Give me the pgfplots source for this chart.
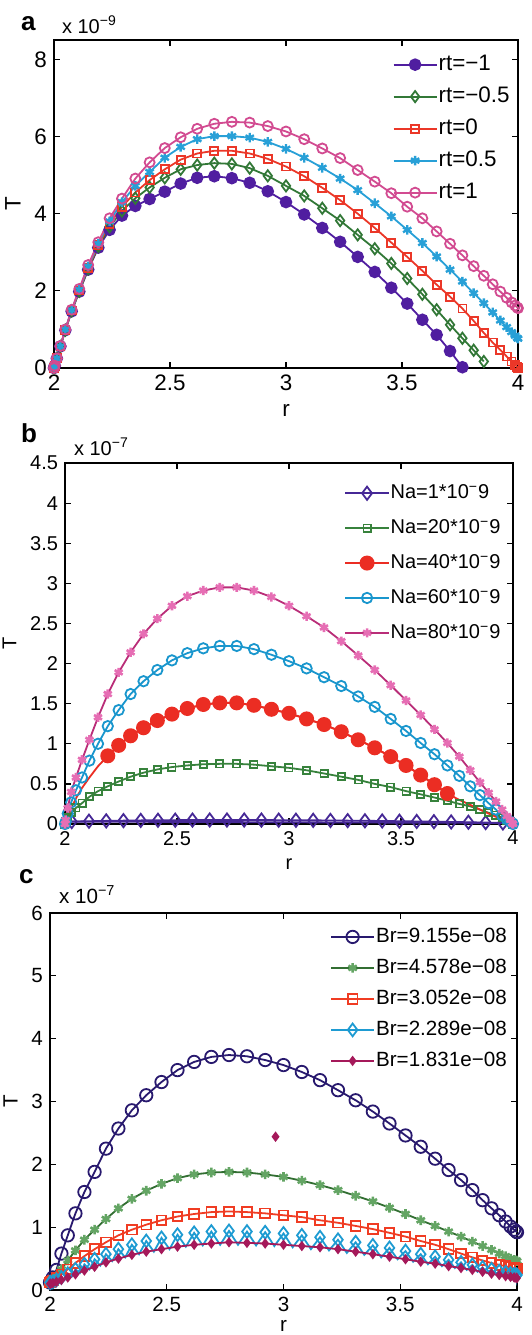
\documentclass[border=0pt]{standalone}
\usepackage{fontspec}
\setmainfont{Liberation Sans}
\usepackage{pgfplots}
\usepackage{pgfplotstable}
\pgfplotsset{compat=1.18}

\definecolor{a1}{RGB}{80,30,160}
\definecolor{a2}{RGB}{50,120,55}
\definecolor{a3}{RGB}{235,55,40}
\definecolor{a4}{RGB}{40,160,215}
\definecolor{a5}{RGB}{210,75,145}
\definecolor{b1}{RGB}{70,40,150}
\definecolor{b2}{RGB}{55,130,60}
\definecolor{b3}{RGB}{235,45,35}
\definecolor{b4}{RGB}{25,150,205}
\definecolor{b5}{RGB}{185,45,120}
\definecolor{b5f}{RGB}{230,110,180}
\definecolor{c1}{RGB}{40,25,110}
\definecolor{c2}{RGB}{50,110,50}
\definecolor{c2f}{RGB}{100,165,100}
\definecolor{c3}{RGB}{240,60,35}
\definecolor{c4}{RGB}{30,155,210}
\definecolor{c5}{RGB}{165,25,90}

% panel a: rt = -1, -0.5, 0, 0.5, 1  (units 1e-9)
\pgfplotstableread{
r A B C D E
2.0000 0 0 0 0 0
2.0031 0.06 0.06 0.06 0.06 0.06
2.0123 0.25 0.25 0.25 0.25 0.25
2.0276 0.56 0.56 0.56 0.56 0.57
2.0489 0.98 0.98 0.99 1.00 1.00
2.0761 1.47 1.48 1.49 1.50 1.51
2.1090 1.98 1.99 2.01 2.03 2.05
2.1474 2.55 2.57 2.60 2.63 2.67
2.1910 3.12 3.15 3.18 3.22 3.26
2.2396 3.58 3.66 3.73 3.80 3.88
2.2929 3.95 4.07 4.18 4.30 4.39
2.3506 4.20 4.40 4.55 4.72 4.91
2.4122 4.38 4.68 4.87 5.08 5.33
2.4775 4.57 4.93 5.15 5.45 5.70
2.5460 4.78 5.15 5.40 5.73 5.98
2.6173 4.93 5.26 5.56 5.93 6.20
2.6910 4.97 5.31 5.63 6.01 6.33
2.7666 4.92 5.29 5.63 6.01 6.38
2.8436 4.80 5.18 5.56 5.97 6.36
2.9215 4.58 4.98 5.42 5.86 6.27
3.0000 4.30 4.72 5.22 5.68 6.13
3.0785 3.98 4.46 4.97 5.45 5.93
3.1564 3.63 4.14 4.67 5.19 5.69
3.2334 3.27 3.82 4.35 4.91 5.44
3.3090 2.88 3.45 4.00 4.61 5.13
3.3827 2.49 3.09 3.63 4.27 4.83
3.4540 2.08 2.71 3.25 3.93 4.53
3.5225 1.67 2.32 2.88 3.58 4.18
3.5878 1.25 1.91 2.52 3.24 3.88
3.6494 0.86 1.51 2.16 2.89 3.54
3.7071 0.44 1.12 1.85 2.55 3.22
3.7604 0.02 0.77 1.54 2.24 2.92
3.8090 nan 0.46 1.22 1.94 2.64
3.8526 nan 0.17 0.91 1.68 2.39
3.8910 nan nan 0.66 1.44 2.17
3.9239 nan nan 0.47 1.23 1.98
3.9511 nan nan 0.30 1.06 1.82
3.9724 nan nan 0.17 0.93 1.70
3.9877 nan nan 0.08 0.84 1.62
3.9969 nan nan 0.02 0.78 1.57
4.0000 nan nan 0.00 0.76 1.55
}\tA

% panel b: Na = 20, 40, 60, 80 (units 1e-7)
\pgfplotstableread{
r G R C P
2.0000 0 0 0 0
2.0031 0.03 0.02 0.03 0.05
2.0123 0.08 0.10 0.13 0.20
2.0276 0.14 0.20 0.27 0.40
2.0489 0.20 0.32 0.42 0.58
2.0761 0.26 0.45 0.58 0.80
2.1090 0.34 0.58 0.79 1.05
2.1474 0.41 0.72 1.00 1.33
2.1910 0.47 0.85 1.22 1.62
2.2396 0.53 0.98 1.42 1.89
2.2929 0.59 1.10 1.62 2.14
2.3506 0.64 1.20 1.78 2.37
2.4122 0.68 1.29 1.92 2.56
2.4775 0.71 1.37 2.04 2.72
2.5460 0.73 1.44 2.13 2.84
2.6173 0.745 1.49 2.19 2.91
2.6910 0.75 1.51 2.22 2.95
2.7666 0.75 1.51 2.22 2.95
2.8436 0.74 1.48 2.18 2.91
2.9215 0.72 1.43 2.11 2.83
3.0000 0.70 1.38 2.03 2.72
3.0785 0.67 1.31 1.94 2.59
3.1564 0.63 1.24 1.83 2.45
3.2334 0.59 1.15 1.72 2.28
3.3090 0.55 1.05 1.59 2.10
3.3827 0.50 0.95 1.46 1.92
3.4540 0.46 0.84 1.31 1.73
3.5225 0.41 0.73 1.16 1.54
3.5878 0.37 0.61 1.01 1.36
3.6494 0.33 0.49 0.87 1.18
3.7071 0.29 0.38 0.73 1.01
3.7604 0.25 0.30 0.60 0.84
3.8090 0.22 0.24 0.47 0.67
3.8526 0.18 0.18 0.36 0.52
3.8910 0.14 0.13 0.26 0.39
3.9239 0.11 0.09 0.18 0.28
3.9511 0.08 0.06 0.11 0.18
3.9724 0.05 0.03 0.06 0.10
3.9877 0.03 0.015 0.03 0.05
3.9969 0.01 0.004 0.01 0.01
4.0000 0 0 0 0
}\tB

\pgfplotstableread{
r R
2.1910 0.85
2.2396 0.98
2.2929 1.10
2.3506 1.20
2.4122 1.29
2.4775 1.37
2.5460 1.44
2.6173 1.49
2.6910 1.51
2.7666 1.51
2.8436 1.48
2.9215 1.43
3.0000 1.38
3.0785 1.31
3.1564 1.24
3.2334 1.15
3.3090 1.05
3.3827 0.95
3.4540 0.84
3.5225 0.73
3.5878 0.61
3.6494 0.49
3.7071 0.38
}\tBR

\pgfplotstableread{
r V
2.030 0.030
2.107 0.035
2.184 0.039
2.261 0.042
2.338 0.045
2.415 0.047
2.492 0.048
2.569 0.049
2.646 0.050
2.723 0.050
2.800 0.050
2.877 0.049
2.954 0.048
3.031 0.047
3.108 0.046
3.185 0.044
3.262 0.042
3.339 0.040
3.416 0.038
3.493 0.035
3.570 0.032
3.647 0.029
3.724 0.026
3.801 0.022
3.878 0.018
3.955 0.013
}\tBV

% panel c: Br = 9.155e-8, 4.578e-8, 3.052e-8, 1.831e-8 (units 1e-7)
\pgfplotstableread{
r N G R M
2.0000 0.12 0.12 0.12 0.10
2.0031 0.14 0.13 0.13 0.10
2.0123 0.20 0.16 0.15 0.11
2.0276 0.32 0.22 0.19 0.13
2.0489 0.58 0.33 0.25 0.16
2.0761 0.87 0.47 0.33 0.20
2.1090 1.22 0.63 0.43 0.25
2.1474 1.56 0.80 0.54 0.31
2.1910 1.88 0.96 0.65 0.37
2.2396 2.25 1.13 0.76 0.44
2.2929 2.57 1.30 0.87 0.50
2.3506 2.86 1.45 0.96 0.56
2.4122 3.10 1.58 1.04 0.61
2.4775 3.31 1.69 1.11 0.65
2.5460 3.50 1.78 1.17 0.69
2.6173 3.63 1.84 1.21 0.72
2.6910 3.71 1.87 1.24 0.74
2.7666 3.74 1.88 1.25 0.76
2.8436 3.72 1.87 1.24 0.75
2.9215 3.66 1.84 1.22 0.74
3.0000 3.58 1.80 1.19 0.72
3.0785 3.47 1.74 1.16 0.70
3.1564 3.34 1.67 1.11 0.68
3.2334 3.18 1.59 1.07 0.65
3.3090 3.02 1.50 1.02 0.61
3.3827 2.84 1.41 0.97 0.57
3.4540 2.65 1.31 0.91 0.53
3.5225 2.46 1.21 0.85 0.49
3.5878 2.28 1.11 0.78 0.45
3.6494 2.09 1.02 0.72 0.42
3.7071 1.91 0.93 0.65 0.38
3.7604 1.75 0.85 0.58 0.35
3.8090 1.59 0.77 0.52 0.32
3.8526 1.43 0.70 0.47 0.29
3.8910 1.30 0.64 0.43 0.26
3.9239 1.19 0.58 0.40 0.24
3.9511 1.09 0.54 0.38 0.22
3.9724 1.01 0.50 0.36 0.21
3.9877 0.96 0.48 0.35 0.20
3.9969 0.93 0.47 0.34 0.19
4.0000 0.92 0.46 0.34 0.19
}\tC

% Br = 2.289e-8 (zig-zag line)
\pgfplotstableread{
r C
2.0000 0.12
2.0016 0.10
2.0031 0.12
2.0077 0.10
2.0123 0.13
2.0200 0.11
2.0276 0.16
2.0383 0.13
2.0489 0.20
2.0625 0.16
2.0761 0.26
2.0926 0.21
2.1090 0.33
2.1282 0.27
2.1474 0.41
2.1692 0.33
2.1910 0.49
2.2153 0.39
2.2396 0.57
2.2663 0.46
2.2929 0.65
2.3218 0.52
2.3506 0.72
2.3814 0.57
2.4122 0.78
2.4449 0.61
2.4775 0.83
2.5118 0.65
2.5460 0.88
2.5817 0.69
2.6173 0.91
2.6542 0.71
2.6910 0.93
2.7288 0.72
2.7666 0.94
2.8051 0.72
2.8436 0.93
2.8826 0.71
2.9215 0.92
2.9608 0.70
3.0000 0.90
3.0393 0.68
3.0785 0.87
3.1175 0.65
3.1564 0.84
3.1949 0.63
3.2334 0.80
3.2712 0.59
3.3090 0.76
3.3459 0.56
3.3827 0.71
3.4184 0.52
3.4540 0.67
3.4883 0.49
3.5225 0.62
3.5552 0.45
3.5878 0.57
3.6186 0.41
3.6494 0.53
3.6783 0.38
3.7071 0.48
3.7338 0.35
3.7604 0.44
3.7847 0.32
3.8090 0.40
3.8308 0.29
3.8526 0.36
3.8718 0.27
3.8910 0.33
3.9075 0.25
3.9239 0.30
3.9375 0.23
3.9511 0.28
3.9618 0.22
3.9724 0.26
3.9801 0.20
3.9877 0.25
3.9923 0.20
3.9969 0.24
3.9985 0.19
4.0000 0.24
}\tCC

\newcommand{\tfa}{\fontsize{11.2}{13.4}\selectfont}
\newcommand{\tfb}{\fontsize{10}{12}\selectfont}
\newcommand{\tfc}{\fontsize{10.3}{12.4}\selectfont}

\pgfplotsset{
  myaxis/.style={
    scale only axis, xmin=2, xmax=4, ymin=0,
    xtick={2,2.5,3,3.5,4},
    tick align=inside, major tick length=3pt,
    axis line style={line width=0.8pt},
    every tick/.style={line width=0.6pt, black},
    /pgf/number format/assume math mode=true,
    xlabel={r}, ylabel={T},
    clip=false,
    legend cell align=left,
    legend style={draw=none, fill=none, inner sep=0pt, anchor=north east},
    legend image code/.code={\draw[mark repeat=2,mark phase=2] plot coordinates {(0cm,0cm) (0.38cm,0cm) (0.76cm,0cm)};},
    every axis plot/.append style={line width=0.9pt},
  },
  fonta/.style={tick label style={font=\tfa}, label style={font=\tfa},
    legend style={font=\tfa, nodes={inner sep=0.5pt, text height=8.1pt, text depth=2pt}}},
  fontb/.style={tick label style={font=\tfb}, label style={font=\tfb},
    legend style={font=\tfb, nodes={inner sep=0.5pt, text height=7.2pt, text depth=1.8pt}}},
  fontc/.style={tick label style={font=\tfc}, label style={font=\tfc},
    legend style={font=\tfc, nodes={inner sep=0.5pt, text height=7.4pt, text depth=1.9pt}}},
}

\begin{document}
\begin{tikzpicture}
\useasboundingbox (0,0) rectangle (265.5pt,-667.5pt);

% ---------- panel a ----------
\begin{axis}[myaxis, fonta, name=A, at={(27pt,-184pt)}, anchor=south west,
  width=232pt, height=164pt, ymax=8.5, ytick={0,2,4,6,8},
  legend style={at={(0.985,0.96)}, row sep=4.9pt}]
\addplot[a1, mark=*, mark size=2.7pt, mark options={fill=a1}] table[x=r,y=A] {\tA};
\addlegendentry{rt=−1}
\addplot[a2, mark=diamond, mark size=2.8pt] table[x=r,y=B] {\tA};
\addlegendentry{rt=−0.5}
\addplot[a3, mark=square, mark size=2pt] table[x=r,y=C] {\tA};
\addlegendentry{rt=0}
\addplot[a4, mark=asterisk, mark size=2.4pt, mark options={line width=1.2pt}] table[x=r,y=D] {\tA};
\addlegendentry{rt=0.5}
\addplot[a5, mark=o, mark size=2.5pt] table[x=r,y=E] {\tA};
\addlegendentry{rt=1}
\end{axis}
\node[anchor=base west, font=\tfb, xshift=0.5pt, yshift=3.5pt] at (A.north west) {x 10\textsuperscript{−9}};
\node[anchor=base west, font=\fontsize{13}{15}\selectfont\bfseries] at (7pt,-15pt) {a};

% ---------- panel b ----------
\begin{axis}[myaxis, fontb, name=B, at={(32.5pt,-412pt)}, anchor=south west,
  width=224pt, height=180.5pt, ymax=4.5, ytick={0,0.5,1,1.5,2,2.5,3,3.5,4,4.5},
  legend style={at={(0.975,0.945)}, row sep=7.45pt}]
\addplot[b1, forget plot] coordinates {(2,0) (2.030,0.030) (3.955,0.013) (4,0)};
\addplot[b1, mark=diamond, mark size=3.3pt] table[x=r,y=V] {\tBV};
\addlegendentry{Na=1*10\textsuperscript{−}9}
\addplot[b2, mark=square, mark size=1.8pt] table[x=r,y=G] {\tB};
\addlegendentry{Na=20*10\textsuperscript{−}9}
\addplot[b3, forget plot] table[x=r,y=R] {\tB};
\addplot[b3, mark=*, mark size=3.3pt, mark options={fill=b3}] table[x=r,y=R] {\tBR};
\addlegendentry{Na=40*10\textsuperscript{−}9}
\addplot[b4, mark=o, mark size=2.6pt] table[x=r,y=C] {\tB};
\addlegendentry{Na=60*10\textsuperscript{−}9}
\addplot[b5, mark=asterisk, mark size=2.3pt, mark options={draw=b5f, line width=1.3pt}] table[x=r,y=P] {\tB};
\addlegendentry{Na=80*10\textsuperscript{−}9}
\end{axis}
\node[anchor=base west, font=\tfb, xshift=1pt, yshift=4pt] at (B.north west) {x 10\textsuperscript{−7}};
\node[anchor=base west, font=\fontsize{13}{15}\selectfont\bfseries] at (7pt,-221pt) {b};

% ---------- panel c ----------
\begin{axis}[myaxis, fontc, name=C, at={(25pt,-645pt)}, anchor=south west,
  width=233.5pt, height=188.5pt, ymax=6, ytick={0,1,2,3,4,5,6},
  xlabel style={yshift=2.5pt},
  legend style={at={(0.981,0.965)}, row sep=5.2pt}]
\addplot[c1, mark=o, mark size=3.1pt] table[x=r,y=N] {\tC};
\addlegendentry{Br=9.155e−08}
\addplot[c2, mark=asterisk, mark size=2.4pt, mark options={draw=c2f, line width=1.3pt}] table[x=r,y=G] {\tC};
\addlegendentry{Br=4.578e−08}
\addplot[c3, mark=square, mark size=2.4pt] table[x=r,y=R] {\tC};
\addlegendentry{Br=3.052e−08}
\addplot[c4, mark=diamond, mark size=3.2pt, mark repeat=2, mark phase=1] table[x=r,y=C] {\tCC};
\addlegendentry{Br=2.289e−08}
\addplot[c5, mark=diamond*, mark size=1.9pt, mark options={fill=c5}] table[x=r,y=M] {\tC};
\addlegendentry{Br=1.831e−08}
\addplot[c5, only marks, mark=diamond*, mark size=1.9pt, mark options={fill=c5}, forget plot] coordinates {(2.966,2.44)};
\end{axis}
\node[anchor=base west, font=\tfc, xshift=1pt, yshift=5pt] at (C.north west) {x 10\textsuperscript{−7}};
\node[anchor=base west, font=\fontsize{13}{15}\selectfont\bfseries] at (6pt,-441.5pt) {c};
\end{tikzpicture}
\end{document}
